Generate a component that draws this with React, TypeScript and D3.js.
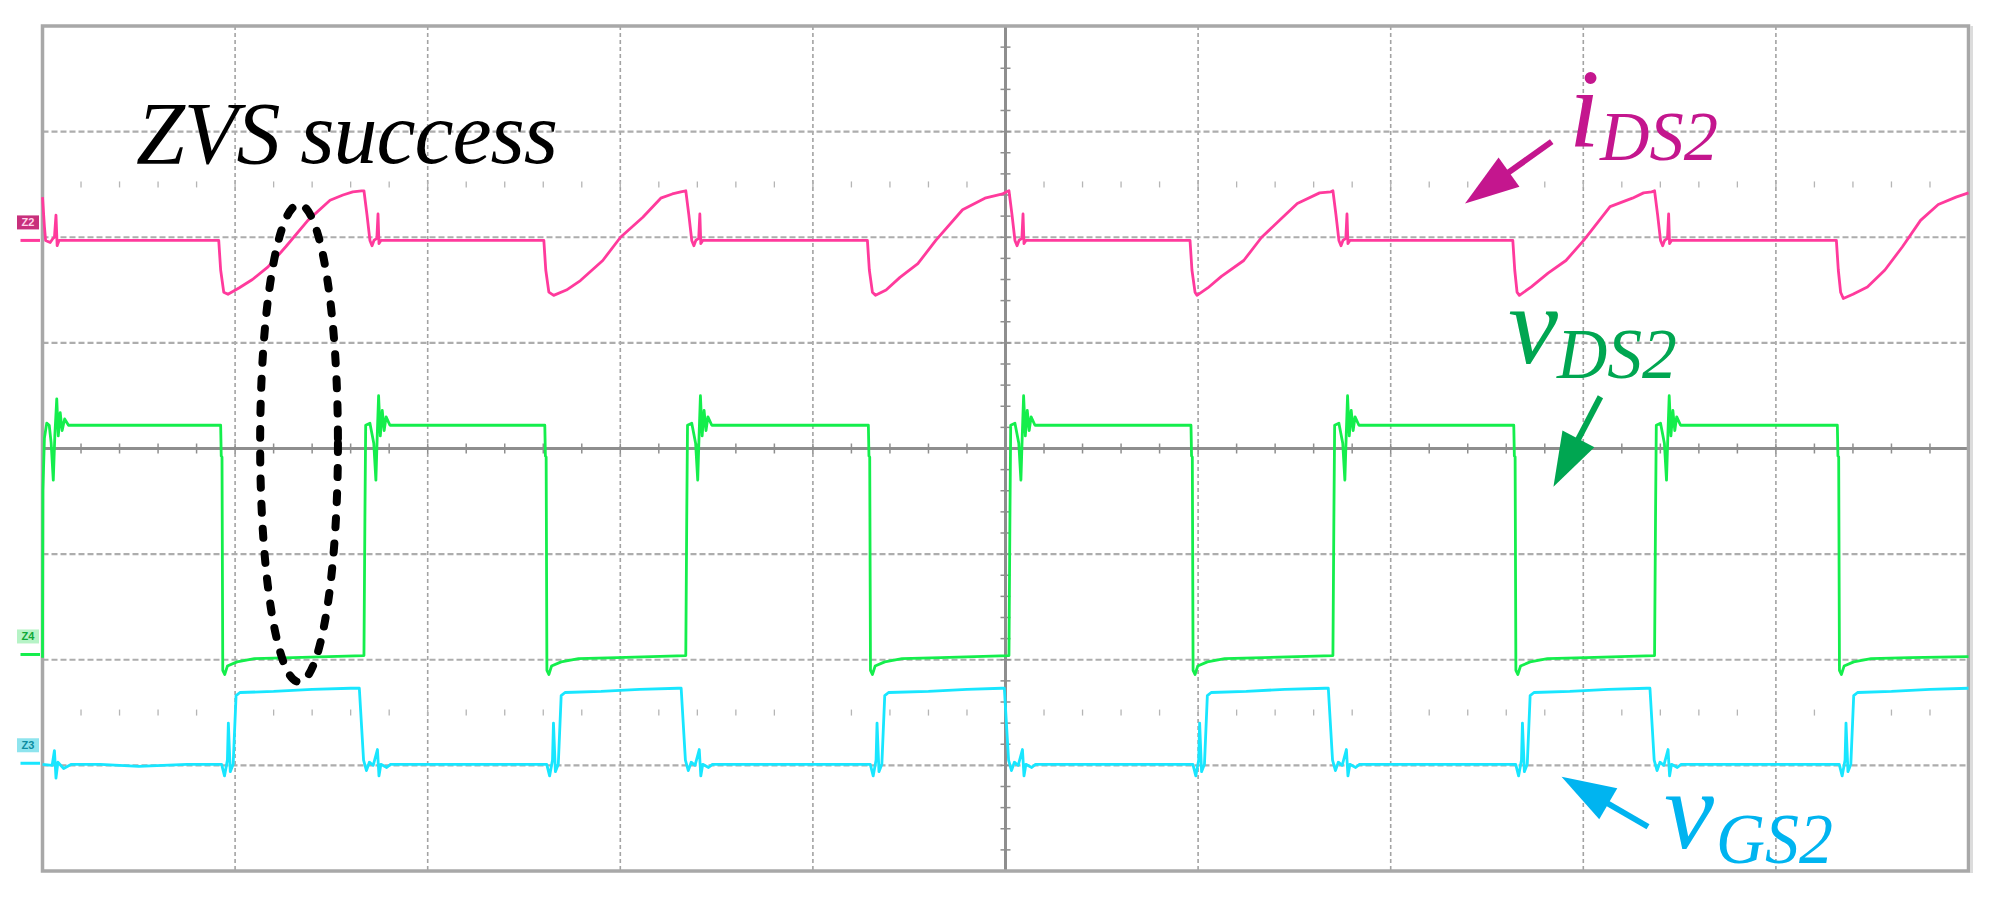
import React from 'react';
import * as d3 from 'd3';

// ---- screen (oscilloscope) : time in 1/10 division units (0..100), amplitude in divisions (-4..4)
const X_DOMAIN: [number, number] = [0, 100];
const Y_DOMAIN: [number, number] = [-4, 4];
const GRID_X = [10, 20, 30, 40, 60, 70, 80, 90];
const GRID_Y = [-3, -2, -1, 1, 2, 3];
const TICK_ROWS = [2.5, -2.5];

// iDS2 (pink)
const I_DS2: [number, number][] = [
  [0, 2.38], [0.1, 2.1], [0.16, 1.97], [0.4, 1.95], [0.55, 1.99], [0.62, 2.0], [0.7, 2.21], [0.76, 1.92], [0.86, 1.97],
  [9.15, 1.97], [9.25, 1.69], [9.41, 1.48], [9.63, 1.46], [10.2, 1.52], [10.9, 1.6], [11.71, 1.72], [12.63, 1.91], [13.78, 2.16], [14.93, 2.35], [15.6, 2.4], [16.11, 2.43], [16.57, 2.44], [16.69, 2.44],
  [16.85, 2.21], [17.0, 1.97], [17.11, 1.92], [17.21, 1.97], [17.36, 1.99], [17.42, 2.22], [17.47, 1.94], [17.57, 1.97],
  [26.03, 1.97], [26.13, 1.69], [26.29, 1.48], [26.54, 1.45], [27.2, 1.5], [27.93, 1.59], [29.09, 1.78], [30.01, 2.0], [31.17, 2.19], [32.1, 2.37], [32.7, 2.41], [33.14, 2.43], [33.4, 2.44],
  [33.56, 2.21], [33.71, 1.97], [33.82, 1.92], [33.92, 1.97], [34.07, 1.99], [34.13, 2.22], [34.18, 1.94], [34.28, 1.97],
  [42.83, 1.97], [42.93, 1.69], [43.09, 1.48], [43.25, 1.45], [43.8, 1.5], [44.52, 1.62], [45.45, 1.75], [46.38, 1.97], [47.77, 2.26], [48.93, 2.37], [49.85, 2.41], [50.05, 2.43], [50.18, 2.44],
  [50.34, 2.21], [50.49, 1.97], [50.6, 1.92], [50.7, 1.97], [50.85, 1.99], [50.91, 2.22], [50.96, 1.94], [51.06, 1.97],
  [59.58, 1.97], [59.68, 1.69], [59.84, 1.48], [59.94, 1.45], [60.5, 1.52], [61.21, 1.63], [62.37, 1.78], [63.3, 2.0], [64.23, 2.16], [65.15, 2.32], [66.31, 2.42], [66.89, 2.43], [67.0, 2.44],
  [67.16, 2.21], [67.31, 1.97], [67.42, 1.92], [67.52, 1.97], [67.67, 1.99], [67.73, 2.22], [67.78, 1.94], [67.88, 1.97],
  [76.34, 1.97], [76.44, 1.69], [76.56, 1.48], [76.68, 1.45], [77.3, 1.53], [78.17, 1.66], [79.1, 1.78], [80.02, 1.97], [81.39, 2.29], [82.55, 2.37], [83.13, 2.42], [83.55, 2.43], [83.7, 2.44],
  [83.86, 2.21], [84.01, 1.97], [84.12, 1.92], [84.22, 1.97], [84.37, 1.99], [84.43, 2.22], [84.48, 1.94], [84.58, 1.97],
  [93.14, 1.97], [93.24, 1.69], [93.36, 1.48], [93.5, 1.42], [94.0, 1.46], [94.75, 1.53], [95.66, 1.69], [96.57, 1.91], [97.51, 2.16], [98.43, 2.31], [99.35, 2.38], [100, 2.42],
];

// vDS2 (green)
const V_DS2: [number, number][] = [
  [0, -1.98], [0.02, -0.4], [0.1, 0.1], [0.22, 0.24], [0.35, 0.22], [0.45, 0.05], [0.56, -0.3], [0.64, 0.12], [0.74, 0.47], [0.82, 0.12], [0.92, 0.34], [1.02, 0.17], [1.15, 0.28], [1.35, 0.22],
  [9.25, 0.22], [9.28, -0.07], [9.32, -0.08], [9.36, -2.1], [9.46, -2.14], [9.6, -2.06], [10.1, -2.02], [11.0, -1.99], [13.0, -1.98], [16.69, -1.96],
  [16.74, -0.65], [16.78, 0.22], [17.0, 0.24], [17.2, 0.05], [17.31, -0.3], [17.38, 0.12], [17.45, 0.5], [17.54, 0.12], [17.64, 0.36], [17.74, 0.17], [17.84, 0.3], [18.04, 0.22],
  [26.08, 0.22], [26.11, -0.07], [26.15, -0.08], [26.19, -2.1], [26.29, -2.14], [26.43, -2.06], [26.93, -2.02], [27.83, -1.99], [29.83, -1.98], [33.4, -1.96],
  [33.45, -0.65], [33.49, 0.22], [33.71, 0.24], [33.91, 0.05], [34.02, -0.3], [34.09, 0.12], [34.16, 0.5], [34.25, 0.12], [34.35, 0.36], [34.45, 0.17], [34.55, 0.3], [34.75, 0.22],
  [42.88, 0.22], [42.91, -0.07], [42.95, -0.08], [42.99, -2.1], [43.09, -2.14], [43.23, -2.06], [43.73, -2.02], [44.63, -1.99], [46.63, -1.98], [50.18, -1.96],
  [50.23, -0.65], [50.27, 0.22], [50.49, 0.24], [50.69, 0.05], [50.8, -0.3], [50.87, 0.12], [50.94, 0.5], [51.03, 0.12], [51.13, 0.36], [51.23, 0.17], [51.33, 0.3], [51.53, 0.22],
  [59.63, 0.22], [59.66, -0.07], [59.7, -0.08], [59.74, -2.1], [59.84, -2.14], [59.98, -2.06], [60.48, -2.02], [61.38, -1.99], [63.38, -1.98], [67.0, -1.96],
  [67.05, -0.65], [67.09, 0.22], [67.31, 0.24], [67.51, 0.05], [67.62, -0.3], [67.69, 0.12], [67.76, 0.5], [67.85, 0.12], [67.95, 0.36], [68.05, 0.17], [68.15, 0.3], [68.35, 0.22],
  [76.39, 0.22], [76.42, -0.07], [76.46, -0.08], [76.5, -2.1], [76.6, -2.14], [76.74, -2.06], [77.24, -2.02], [78.14, -1.99], [80.14, -1.98], [83.7, -1.96],
  [83.75, -0.65], [83.79, 0.22], [84.01, 0.24], [84.21, 0.05], [84.32, -0.3], [84.39, 0.12], [84.46, 0.5], [84.55, 0.12], [84.65, 0.36], [84.75, 0.17], [84.85, 0.3], [85.05, 0.22],
  [93.19, 0.22], [93.22, -0.07], [93.26, -0.08], [93.3, -2.1], [93.4, -2.14], [93.54, -2.06], [94.04, -2.02], [94.94, -1.99], [96.94, -1.98], [100, -1.97],
];

// vGS2 (cyan)
const V_GS2: [number, number][] = [
  [0, -2.99], [0.5, -3.0], [0.62, -2.86], [0.7, -3.12], [0.8, -2.97], [1.1, -3.03], [1.5, -2.99], [3.0, -2.99], [5.0, -3.01], [7.5, -2.99],
  [9.3, -2.99], [9.45, -3.1], [9.6, -2.95], [9.65, -2.6], [9.75, -3.06], [9.9, -2.99], [10.05, -2.34], [10.25, -2.31], [12.0, -2.3], [14.0, -2.28], [16.0, -2.27], [16.45, -2.27],
  [16.67, -2.95], [16.82, -3.05], [16.97, -2.97], [17.17, -3.0], [17.39, -2.85], [17.47, -3.1], [17.57, -2.99], [17.87, -3.02], [18.07, -2.99], [22.0, -2.99],
  [26.18, -2.99], [26.33, -3.1], [26.48, -2.95], [26.53, -2.6], [26.63, -3.06], [26.78, -2.99], [26.93, -2.34], [27.13, -2.31], [29.0, -2.3], [31.0, -2.28], [33.0, -2.27], [33.16, -2.27],
  [33.38, -2.95], [33.53, -3.05], [33.68, -2.97], [33.88, -3.0], [34.1, -2.85], [34.18, -3.1], [34.28, -2.99], [34.58, -3.02], [34.78, -2.99], [39.0, -2.99],
  [42.98, -2.99], [43.13, -3.1], [43.28, -2.95], [43.33, -2.6], [43.43, -3.06], [43.58, -2.99], [43.73, -2.34], [43.93, -2.31], [46.0, -2.3], [48.0, -2.28], [49.8, -2.27], [49.94, -2.27],
  [50.16, -2.95], [50.31, -3.05], [50.46, -2.97], [50.66, -3.0], [50.88, -2.85], [50.96, -3.1], [51.06, -2.99], [51.36, -3.02], [51.56, -2.99], [56.0, -2.99],
  [59.73, -2.99], [59.88, -3.1], [60.03, -2.95], [60.08, -2.6], [60.18, -3.06], [60.33, -2.99], [60.48, -2.34], [60.68, -2.31], [62.5, -2.3], [64.5, -2.28], [66.6, -2.27], [66.76, -2.27],
  [66.98, -2.95], [67.13, -3.05], [67.28, -2.97], [67.48, -3.0], [67.7, -2.85], [67.78, -3.1], [67.88, -2.99], [68.18, -3.02], [68.38, -2.99], [73.0, -2.99],
  [76.49, -2.99], [76.64, -3.1], [76.79, -2.95], [76.84, -2.6], [76.94, -3.06], [77.09, -2.99], [77.24, -2.34], [77.44, -2.31], [79.3, -2.3], [81.3, -2.28], [83.3, -2.27], [83.46, -2.27],
  [83.68, -2.95], [83.83, -3.05], [83.98, -2.97], [84.18, -3.0], [84.4, -2.85], [84.48, -3.1], [84.58, -2.99], [84.88, -3.02], [85.08, -2.99], [90.0, -2.99],
  [93.29, -2.99], [93.44, -3.1], [93.59, -2.95], [93.64, -2.6], [93.74, -3.06], [93.89, -2.99], [94.04, -2.34], [94.24, -2.31], [96.0, -2.3], [98.0, -2.28], [100, -2.27],
];

// channel reference markers
const CHANNELS = [
  { name: 'Z2', level: 1.97, color: '#ff3a9c', bg: '#c8307c', fg: '#ffd6ea' },
  { name: 'Z4', level: -1.95, color: '#14ee4c', bg: '#b6f3c6', fg: '#10a838' },
  { name: 'Z3', level: -2.98, color: '#18e6ff', bg: '#8ee4ee', fg: '#0c8ca0' },
];

const SERIF = '"Liberation Serif", "Times New Roman", serif';

function Arrow({ x1, y1, x2, y2, color }: { x1: number; y1: number; x2: number; y2: number; color: string }) {
  const dx = x2 - x1, dy = y2 - y1;
  const len = Math.hypot(dx, dy);
  const ux = dx / len, uy = dy / len;
  const hl = 54, hw = 18;
  const bx = x2 - ux * hl, by = y2 - uy * hl;
  const px = -uy, py = ux;
  return (
    <g>
      <line x1={x1} y1={y1} x2={bx + ux * 4} y2={by + uy * 4} stroke={color} strokeWidth={6} />
      <polygon points={`${x2},${y2} ${bx + px * hw},${by + py * hw} ${bx - px * hw},${by - py * hw}`} fill={color} />
    </g>
  );
}

export default function App() {
  const x = d3.scaleLinear().domain(X_DOMAIN).range([42.5, 1968.5]);
  const y = d3.scaleLinear().domain(Y_DOMAIN).range([871, 26]);
  const line = d3.line<[number, number]>().x(d => x(d[0])).y(d => y(d[1]));
  const left = x(X_DOMAIN[0]), right = x(X_DOMAIN[1]), top = y(Y_DOMAIN[1]), bottom = y(Y_DOMAIN[0]);
  const minorX = d3.range(X_DOMAIN[0] + 2, X_DOMAIN[1], 2);
  const minorY = d3.range(Y_DOMAIN[0] + 0.2, Y_DOMAIN[1] - 0.1, 0.2);

  // ellipse (ZVS)
  const ecx = x(13.32), ecy = y(0.05);
  const erx = x(13.32 + 2.02) - ecx, ery = y(0.05) - y(0.05 + 2.26);

  return (
    <svg width={1995} height={897} style={{ position: 'absolute', left: 0, top: 0, background: '#fff' }}>
      <rect x={0} y={0} width={1995} height={897} fill="#fff" />
      {/* grid */}
      {GRID_X.map(g => (
        <line key={'gx' + g} x1={x(g)} x2={x(g)} y1={top} y2={bottom} stroke="#a3a3a3" strokeWidth={1.6} strokeDasharray="4 3" />
      ))}
      {GRID_Y.map(g => (
        <line key={'gy' + g} x1={left} x2={right} y1={y(g)} y2={y(g)} stroke="#adadad" strokeWidth={2.2} strokeDasharray="6 3" />
      ))}
      {TICK_ROWS.map(r =>
        minorX.map(m => (
          <line key={'tr' + r + '_' + m} x1={x(m)} x2={x(m)} y1={y(r) - 3} y2={y(r) + 3} stroke="#b5b5b5" strokeWidth={1.3} />
        ))
      )}
      {/* center cross */}
      <line x1={left} x2={right} y1={y(0)} y2={y(0)} stroke="#8e8e8e" strokeWidth={3} />
      <line x1={x(50)} x2={x(50)} y1={top} y2={bottom} stroke="#8e8e8e" strokeWidth={3} />
      {minorX.map(m => (
        <line key={'cx' + m} x1={x(m)} x2={x(m)} y1={y(0) - 5} y2={y(0) + 5} stroke="#8e8e8e" strokeWidth={1.5} />
      ))}
      {minorY.map(m => (
        <line key={'cy' + m} x1={x(50) - 5} x2={x(50) + 5} y1={y(m)} y2={y(m)} stroke="#8e8e8e" strokeWidth={1.5} />
      ))}
      {/* frame */}
      <rect x={left} y={top} width={right - left} height={bottom - top} fill="none" stroke="#a8a8a8" strokeWidth={3.5} />
      <line x1={right + 3} x2={right + 3} y1={top} y2={bottom + 2} stroke="#dcdcdc" strokeWidth={3} />

      {/* traces */}
      <path d={line(I_DS2) || ''} fill="none" stroke="#ff3a9c" strokeWidth={2.8} strokeLinejoin="round" />
      <path d={line(V_DS2) || ''} fill="none" stroke="#14ee4c" strokeWidth={2.8} strokeLinejoin="round" />
      <path d={line(V_GS2) || ''} fill="none" stroke="#18e6ff" strokeWidth={2.8} strokeLinejoin="round" />

      {/* channel markers */}
      {CHANNELS.map(c => (
        <g key={c.name}>
          <line x1={20.5} x2={40} y1={y(c.level)} y2={y(c.level)} stroke={c.color} strokeWidth={3} />
          <rect x={17} y={y(c.level) - 25} width={22} height={14} fill={c.bg} />
          <text x={28} y={y(c.level) - 14} fontSize={11} fontWeight="bold" fontFamily="Arial, sans-serif" fill={c.fg} textAnchor="middle">{c.name}</text>
        </g>
      ))}

      {/* ZVS ellipse */}
      <ellipse cx={ecx} cy={ecy} rx={erx} ry={ery} fill="none" stroke="#000" strokeWidth={8} strokeDasharray="9 16" strokeLinecap="round" />

      {/* annotations */}
      <text x={x(4.85)} y={y(2.706)} fontFamily={SERIF} fontStyle="italic" fontSize={88} fill="#000" textLength={422} lengthAdjust="spacing">ZVS success</text>

      <text x={x(79.25)} y={y(2.857)} fontFamily={SERIF} fontStyle="italic" fontSize={112} fill="#c4168e">i</text>
      <text x={x(80.87)} y={y(2.731)} fontFamily={SERIF} fontStyle="italic" fontSize={70} fill="#c4168e" textLength={118} lengthAdjust="spacingAndGlyphs">DS2</text>
      <Arrow x1={x(78.36)} y1={y(2.905)} x2={x(73.86)} y2={y(2.32)} color="#c4168e" />

      <text x={x(76.1)} y={y(0.809)} fontFamily={SERIF} fontStyle="italic" fontSize={112} fill="#00a651">v</text>
      <text x={x(78.63)} y={y(0.667)} fontFamily={SERIF} fontStyle="italic" fontSize={72} fill="#00a651" textLength={120} lengthAdjust="spacingAndGlyphs">DS2</text>
      <Arrow x1={x(80.89)} y1={y(0.49)} x2={x(78.45)} y2={y(-0.362)} color="#00a651" />

      <text x={x(84.2)} y={y(-3.782)} fontFamily={SERIF} fontStyle="italic" fontSize={112} fill="#00b4f0">v</text>
      <text x={x(86.89)} y={y(-3.927)} fontFamily={SERIF} fontStyle="italic" fontSize={72} fill="#00b4f0" textLength={117} lengthAdjust="spacingAndGlyphs">GS2</text>
      <Arrow x1={x(83.36)} y1={y(-3.581)} x2={x(78.87)} y2={y(-3.107)} color="#00b4f0" />
    </svg>
  );
}
